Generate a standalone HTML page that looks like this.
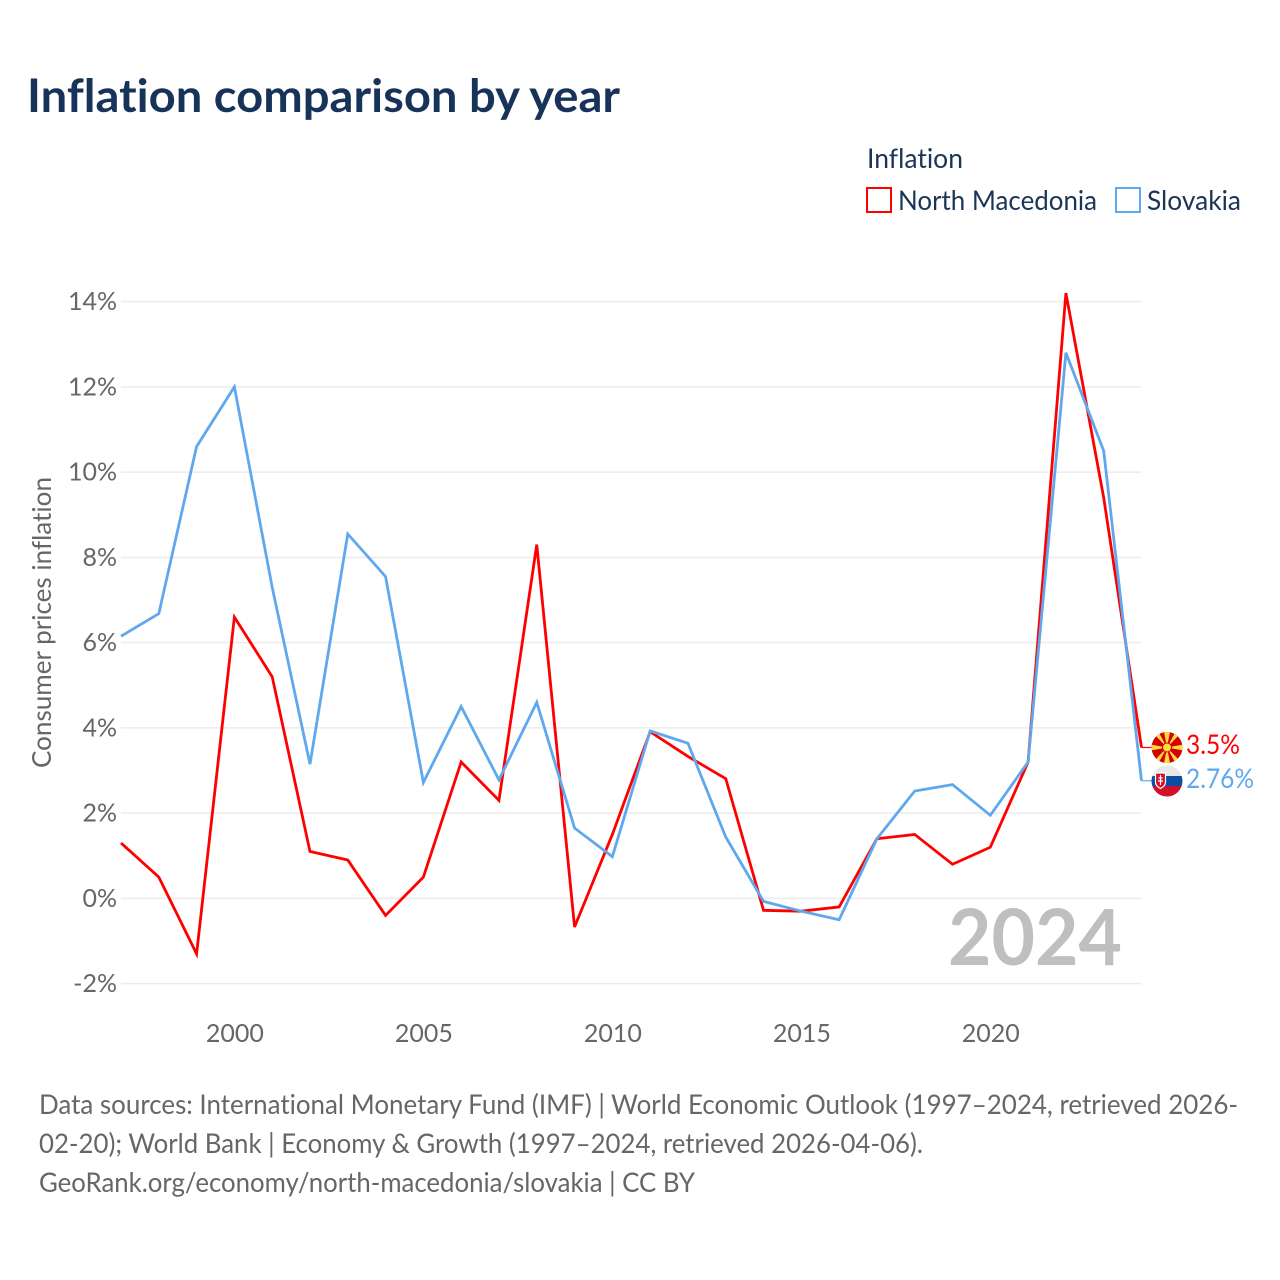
<!DOCTYPE html>
<html lang="en">
<head>
<meta charset="utf-8">
<title>Inflation comparison by year</title>
<style>
html,body{margin:0;padding:0;background:#fff;width:1280px;height:1280px;overflow:hidden}
svg{display:block}
text{font-family:"Lato","Carlito","Liberation Sans",sans-serif;font-variant-ligatures:none}
</style>
</head>
<body>
<svg id="chart" width="1280" height="1280" viewBox="0 0 1280 1280" xmlns="http://www.w3.org/2000/svg">
  <defs>
    <clipPath id="mk-clip"><circle cx="1167" cy="747.500" r="15.500"/></clipPath>
    <clipPath id="sk-clip"><circle cx="1167" cy="781" r="15.500"/></clipPath>
  </defs>
  <text x="27" y="112" font-size="46" font-weight="700" fill="#17335a" textLength="593" lengthAdjust="spacingAndGlyphs">Inflation comparison by year</text>

  <g>
    <text x="867" y="168" font-size="27" fill="#1a3557" textLength="96" lengthAdjust="spacingAndGlyphs">Inflation</text>
    <rect x="867" y="188" width="24" height="24" fill="none" stroke="#ff0000" stroke-width="2"/>
    <text x="898" y="210" font-size="27" fill="#1a3557" textLength="199" lengthAdjust="spacingAndGlyphs">North Macedonia</text>
    <rect x="1116" y="188" width="24" height="24" fill="none" stroke="#5fa8ee" stroke-width="2"/>
    <text x="1147" y="210" font-size="27" fill="#1a3557" textLength="94" lengthAdjust="spacingAndGlyphs">Slovakia</text>
  </g>

  <g id="grid"></g>
  <g id="y-axis"></g>
  <g id="x-axis"></g>
  <text transform="translate(51,768) rotate(-90)" font-size="26" fill="#666666" textLength="291" lengthAdjust="spacingAndGlyphs">Consumer prices inflation</text>
  <text x="948" y="965" font-size="78" font-weight="700" fill="#bfbfbf" textLength="174" lengthAdjust="spacingAndGlyphs">2024</text>
  <g id="series"></g>

  <g clip-path="url(#mk-clip)">
    <rect x="1151" y="732" width="32" height="31" fill="#d20000"/>
    <path d="M1167 747.500L1164 732H1170ZM1167 747.500L1164 763H1170ZM1167 747.500L1151 744.500V750.500ZM1167 747.500L1183 744.500V750.500ZM1167 747.500L1154 734L1158 731ZM1167 747.500L1180 734L1176 731ZM1167 747.500L1154 761L1158 764ZM1167 747.500L1180 761L1176 764Z" fill="#ffd83d"/>
    <circle cx="1167" cy="747.500" r="4.500" fill="#ffd83d" stroke="#d20000" stroke-width="1"/>
  </g>
  <g clip-path="url(#sk-clip)">
    <rect x="1151" y="765" width="32" height="11" fill="#e8e8e8"/>
    <rect x="1151" y="776" width="32" height="10" fill="#0b4ea2"/>
    <rect x="1151" y="786" width="32" height="11" fill="#d0112b"/>
    <path d="M1155.500 773H1165.500V782C1165.500 785.500 1163 787 1160.500 788.500C1158 787 1155.500 785.500 1155.500 782Z" fill="#d0112b" stroke="#fff" stroke-width="1.200"/>
    <path d="M1160.500 775V785M1158.500 778H1162.500M1158 781H1163" stroke="#fff" stroke-width="1.200" fill="none"/>
  </g>

  <text x="1186" y="754" font-size="27" fill="#ff0000" textLength="54" lengthAdjust="spacingAndGlyphs">3.5%</text>
  <text x="1186" y="788" font-size="27" fill="#5fa8ee" textLength="68" lengthAdjust="spacingAndGlyphs">2.76%</text>

  <g font-size="27" fill="#666666">
    <text x="39" y="1114" font-size="27" fill="#666666" textLength="1199" lengthAdjust="spacingAndGlyphs">Data sources: International Monetary Fund (IMF) | World Economic Outlook (1997–2024, retrieved 2026-</text>
    <text x="39" y="1153" font-size="27" fill="#666666" textLength="884" lengthAdjust="spacingAndGlyphs">02-20); World Bank | Economy &amp; Growth (1997–2024, retrieved 2026-04-06).</text>
    <text x="39" y="1192" font-size="27" fill="#666666" textLength="656" lengthAdjust="spacingAndGlyphs">GeoRank.org/economy/north-macedonia/slovakia | CC BY</text>
  </g>
</svg>
<script>
const years = [1997,1998,1999,2000,2001,2002,2003,2004,2005,2006,2007,2008,2009,2010,2011,2012,2013,2014,2015,2016,2017,2018,2019,2020,2021,2022,2023,2024];
const northMacedonia = [1.3,0.5,-1.3,6.6,5.2,1.1,0.9,-0.4,0.5,3.2,2.3,8.3,-0.67,1.5,3.91,3.33,2.81,-0.28,-0.3,-0.2,1.4,1.5,0.8,1.2,3.2,14.2,9.4,3.54];
const slovakia = [6.15,6.68,10.6,12.0,7.3,3.15,8.55,7.55,2.72,4.5,2.78,4.6,1.65,0.98,3.93,3.64,1.44,-0.07,-0.3,-0.5,1.4,2.52,2.67,1.95,3.2,12.8,10.5,2.76];
const yTicks = [-2,0,2,4,6,8,10,12,14];
const xTicks = [2000,2005,2010,2015,2020];

const NS = 'http://www.w3.org/2000/svg';
function xScale(year){ return 121 + (year - 1997) * (1141.5 - 121) / 27; }
function yScale(v){ return 898.4 - v * 42.625; }
function make(tag, attrs, parent){
  const el = document.createElementNS(NS, tag);
  for (const k in attrs) el.setAttribute(k, attrs[k]);
  parent.appendChild(el);
  return el;
}
const gridG = document.getElementById('grid');
const yG = document.getElementById('y-axis');
const xG = document.getElementById('x-axis');
const seriesG = document.getElementById('series');

yTicks.forEach(function(t){
  const line = make('line', {x1:121, x2:1141.5, y1:yScale(t), y2:yScale(t), stroke:'#ececec', 'stroke-width':1.5}, gridG);
  
  
  const label = make('text', {x:117, y:yScale(t) + 8.5, 'text-anchor':'end', 'font-size':25, fill:'#666666'}, yG);
  
  
  label.textContent = t + '%';
});
xTicks.forEach(function(t){
  const label = make('text', {x:xScale(t) + 0.5, y:1042, 'text-anchor':'middle', 'font-size':25, fill:'#666666'}, xG);
  
  
  label.textContent = t;
});
function drawSeries(values, color, name){
  const pts = values.map(function(v, i){ return xScale(years[i]).toFixed(2) + ',' + yScale(v).toFixed(2); });
  const line = make('polyline', {points:pts.join(' '), fill:'none', stroke:color, 'stroke-width':2.8, 'stroke-linejoin':'miter'}, seriesG);
  
  
  const last = values[values.length - 1];
  const lastX = xScale(years[years.length - 1]);
  const leader = make('line', {x1:lastX, x2:lastX + 10, y1:yScale(last), y2:yScale(last), stroke:color, 'stroke-width':1.2}, seriesG);
  
  
}
drawSeries(northMacedonia, '#ff0000', 'north-macedonia');
drawSeries(slovakia, '#5fa8ee', 'slovakia');
</script>
</body>
</html>
